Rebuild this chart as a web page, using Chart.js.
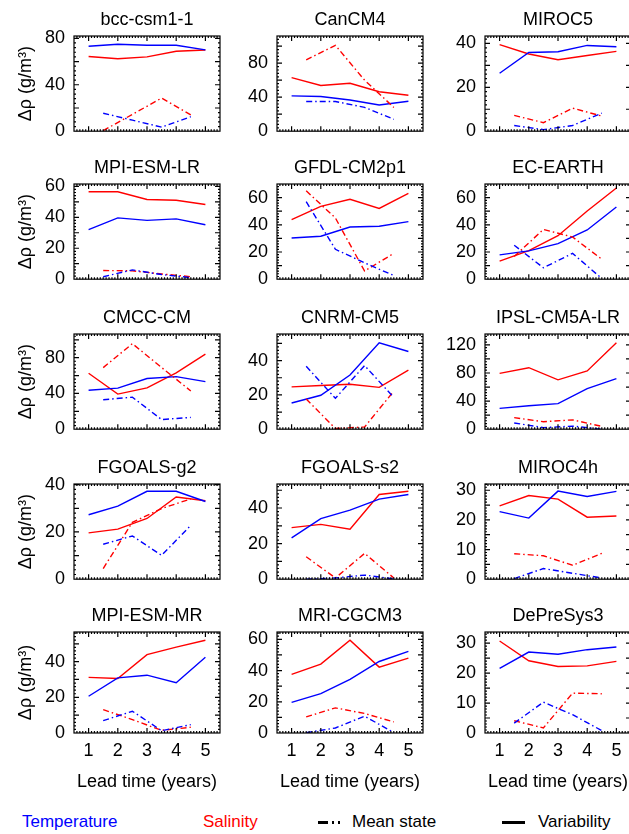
<!DOCTYPE html>
<html>
<head>
<meta charset="utf-8">
<script src="https://cdn.jsdelivr.net/npm/chart.js@4.4.0/dist/chart.umd.min.js"></script>
<style>
  body { margin: 0; width: 629px; height: 834px; overflow: hidden; background: #fff; position: relative;
         font-family: "Liberation Sans", Arial, sans-serif; }
  canvas.panneau { position: absolute; }
  .titre { position: absolute; width: 146px; text-align: center; font-size: 18px; line-height: 22px; white-space: nowrap; }
  .legende { position: absolute; top: 812px; font-size: 17px; line-height: 20px; white-space: nowrap; }
  .trait { position: absolute; background: #000; height: 3px; }
</style>
</head>
<body>
<span class="legende" style="left:22px;color:#0000ff">Temperature</span>
<span class="legende" style="left:203px;color:#ff0000">Salinity</span>
<div class="trait" style="left:318px;top:821px;width:10px"></div>
<div class="trait" style="left:332px;top:821px;width:2px"></div>
<div class="trait" style="left:338px;top:821px;width:2px"></div>
<span class="legende" style="left:352px">Mean state</span>
<div class="trait" style="left:502px;top:821px;width:23px"></div>
<span class="legende" style="left:538px">Variability</span>

<script>
const POLICE = '"Liberation Sans", Arial, sans-serif';

// Noms des modèles (un panneau par modèle)
const modeles = ["bcc-csm1-1", "CanCM4", "MIROC5",
                 "MPI-ESM-LR", "GFDL-CM2p1", "EC-EARTH",
                 "CMCC-CM", "CNRM-CM5", "IPSL-CM5A-LR",
                 "FGOALS-g2", "FGOALS-s2", "MIROC4h",
                 "MPI-ESM-MR", "MRI-CGCM3", "DePreSys3"];

// Années d'échéance (variabilité) et milieux d'intervalles (état moyen)
const annees = [1, 2, 3, 4, 5];
const anneesMilieu = [1.5, 2.5, 3.5, 4.5];

// Variabilité (traits pleins)
const temperatureVariabilite = [
  [73.2, 74.9, 74, 74, 70], [41.6, 40.8, 36.7, 30.8, 35.3], [26.4, 35.9, 36.2, 39.1, 38.5],
  [32, 39.6, 38, 39, 35.2], [30.3, 31.6, 38.4, 38.9, 42.3], [17.9, 20.8, 26.2, 36.2, 53.1],
  [43.5, 45.9, 56.7, 58.8, 53.2], [15.3, 19.8, 31.6, 50.4, 45.3], [29.7, 33.3, 36.4, 57.7, 72],
  [27.3, 30.9, 37.2, 37.2, 32.9], [23.2, 34, 38.8, 45, 47.6], [22.8, 20.6, 29.7, 27.9, 29.6],
  [20.6, 30.9, 32.4, 28.2, 42.4], [19.6, 25.2, 34.4, 45.8, 52.3], [21.6, 27, 26.3, 27.8, 28.7]
];
const saliniteVariabilite = [
  [64.3, 62.4, 64, 68.9, 70], [63, 53.8, 56.4, 46.4, 42.3], [39.5, 35.2, 32.6, 34.5, 36.4],
  [56.5, 56.5, 51.5, 51, 48.3], [43.8, 53.6, 58.8, 52, 63.1], [13.3, 21, 32, 50.2, 67.1],
  [62.6, 39.3, 46.3, 63, 83.9], [24.7, 25.5, 26.2, 24.4, 34.4], [79.5, 87.5, 70.2, 83, 123],
  [19.6, 21.2, 25.7, 34.8, 33.2], [29, 30.8, 28.1, 47.6, 49.4], [24.7, 28.2, 27, 20.9, 21.3],
  [31.2, 30.5, 43.9, 48.1, 52], [37.6, 44.1, 59.4, 42.2, 48], [30.7, 24.1, 22.2, 22.4, 23.9]
];

// Etat moyen (tirets-points)
const temperatureMoyenne = [
  [15.5, 9.5, 3.5, 12.5], [35, 35, 28, 14], [2.6, 0.7, 2.6, 8.2],
  [1.6, 6, 3, 1], [57, 22, 12, 2.7], [25, 8.4, 19, 0.5],
  [33, 35.8, 10.8, 13.2], [36.7, 18, 37.1, 18.5], [8.9, 2.2, 4.4, 0],
  [14.8, 18.3, 10.1, 22.8], [0, 0.7, 2.3, 0.2], [0.2, 3.6, 2, 0.4],
  [6.9, 12.2, 1.3, 4.7], [0.2, 3.2, 10.8, 0.2], [3.3, 10.3, 6.1, 0.8]
];
const saliniteMoyenne = [
  [0.5, 14.5, 28.5, 14], [84, 101, 60, 28], [7.2, 3.9, 10.5, 6.9],
  [5.6, 5.4, 3.4, 1.6], [65, 45, 6, 19], [16.7, 36.6, 31, 14.7],
  [68.9, 95.7, 69, 42.8], [17.6, 0.4, 1.3, 22.2], [16.4, 10.7, 13.3, 4],
  [4.5, 24.1, 29.9, 34], [12.6, 0.7, 14.5, 0.7], [8.6, 7.9, 4.7, 8.7],
  [13.1, 7.5, 1.5, 3.2], [10.3, 16.1, 12.5, 7.1], [4.1, 1.7, 13.3, 13.1]
];

// Axes y : maximum, pas des étiquettes, pas des graduations
const yMax = [82, 112, 43.4, 61.5, 70, 70, 106.5, 55.5, 135.5, 40.3, 53.5, 32.1, 56.6, 64.7, 33.7];
const pasEtiquettes = [40, 40, 20, 20, 20, 20, 40, 20, 40, 20, 20, 10, 20, 20, 10];
const pasGraduations = [20, 20, 10, 10, 10, 10, 20, 10, 20, 10, 10, 5, 10, 10, 5];

// Position des zones de tracé dans la page
const colGauche = [74, 277, 485];
const ligneHaut = [36, 184, 334, 484, 632];
const LARGEUR = 146, HAUTEUR = 101;
const MARGE_G = 74, MARGE_H = 36, MARGE_D = 8;

// Dessine le cadre avec les petites graduations vers l'intérieur
const cadre = {
  id: 'cadre',
  afterDatasetsDraw(chart, args, opts) {
    const ctx = chart.ctx;
    const a = chart.chartArea;
    const x = chart.scales.x, y = chart.scales.y;
    ctx.save();
    ctx.strokeStyle = '#000';
    ctx.lineWidth = 1.2;
    ctx.strokeRect(a.left, a.top, a.right - a.left, a.bottom - a.top);
    ctx.beginPath();
    for (let k = 6; k <= 54; k++) {
      const px = x.getPixelForValue(k / 10);
      const l = (k % 10 == 0) ? 5 : 2;
      ctx.moveTo(px, a.bottom); ctx.lineTo(px, a.bottom - l);
      ctx.moveTo(px, a.top); ctx.lineTo(px, a.top + l);
    }
    const mineur = opts.pas / 5;
    for (let k = 1; k * mineur < y.max; k++) {
      const py = y.getPixelForValue(k * mineur);
      const l = (k % 5 == 0) ? 5 : 2;
      ctx.moveTo(a.left, py); ctx.lineTo(a.left + l, py);
      ctx.moveTo(a.right, py); ctx.lineTo(a.right - l, py);
    }
    ctx.stroke();
    ctx.restore();
  }
};

function serie(xs, ys, couleur, tirets) {
  return {
    data: xs.map((v, k) => ({x: v, y: ys[k]})),
    borderColor: couleur,
    borderWidth: 1.4,
    borderDash: tirets,
    pointRadius: 0,
    fill: false,
    tension: 0
  };
}

// Etiquettes y : 0, pas, 2*pas ... jusqu'au maximum
function etiquettesY(i) {
  let liste = [];
  for (let v = 0; v <= yMax[i]; v += pasEtiquettes[i])
    liste.push({value: v});
  return liste;
}

function creerPanneau(i) {
  const col = i % 3, ligne = Math.floor(i / 3);
  const derniereLigne = ligne == 4;
  const bas = derniereLigne ? 2 : 14;
  const canvas = document.createElement('canvas');
  canvas.className = 'panneau';
  canvas.width = MARGE_G + LARGEUR + MARGE_D;
  canvas.height = MARGE_H + HAUTEUR + (derniereLigne ? 60 : 0) + bas;
  canvas.style.left = (colGauche[col] - MARGE_G) + 'px';
  canvas.style.top = (ligneHaut[ligne] - MARGE_H) + 'px';
  document.body.appendChild(canvas);

  // titre du panneau, centré sur la zone de tracé
  let titre = document.createElement('div');
  titre.className = 'titre';
  titre.textContent = modeles[i];
  titre.style.left = colGauche[col] + 'px';
  titre.style.top = (ligneHaut[ligne] - 28) + 'px';
  document.body.appendChild(titre);

  const pointille = [6, 3, 1.5, 3];
  new Chart(canvas, {
    type: 'line',
    data: {
      datasets: [
        serie(anneesMilieu, temperatureMoyenne[i], '#0000ff', pointille),
        serie(anneesMilieu, saliniteMoyenne[i], '#ff0000', pointille),
        serie(annees, temperatureVariabilite[i], '#0000ff', []),
        serie(annees, saliniteVariabilite[i], '#ff0000', [])
      ]
    },
    options: {
      responsive: false,
      animation: false,
      layout: { padding: { top: MARGE_H, left: 0, right: MARGE_D, bottom: bas } },
      plugins: {
        legend: { display: false },
        tooltip: { enabled: false },
        title: { display: false },
        cadre: { pas: pasGraduations[i] }
      },
      scales: {
        x: {
          type: 'linear', min: 0.5, max: 5.5, display: derniereLigne,
          afterFit: s => { if (derniereLigne) s.height = 60; },
          afterBuildTicks: s => { s.ticks = annees.map(v => ({value: v})); },
          grid: { display: false, drawTicks: false }, border: { display: false },
          ticks: { padding: 7, color: '#000', maxRotation: 0, autoSkip: false,
                   font: { size: 18, family: POLICE } },
          title: { display: true, text: 'Lead time (years)', color: '#000',
                   font: { size: 18, family: POLICE }, padding: { top: 0, bottom: 0 } }
        },
        y: {
          type: 'linear', min: 0, max: yMax[i],
          afterFit: s => { s.width = MARGE_G; },
          afterBuildTicks: s => { s.ticks = etiquettesY(i); },
          grid: { display: false, drawTicks: false }, border: { display: false },
          ticks: { padding: 9, color: '#000', autoSkip: false, font: { size: 18, family: POLICE } },
          title: { display: col == 0, text: 'Δρ (g/m³)', color: '#000',
                   font: { size: 18, family: POLICE }, padding: { top: 15, bottom: 0 } }
        }
      }
    },
    plugins: [cadre]
  });
}

for (let i = 0; i < modeles.length; i++) {
  creerPanneau(i);
}
</script>
</body>
</html>
